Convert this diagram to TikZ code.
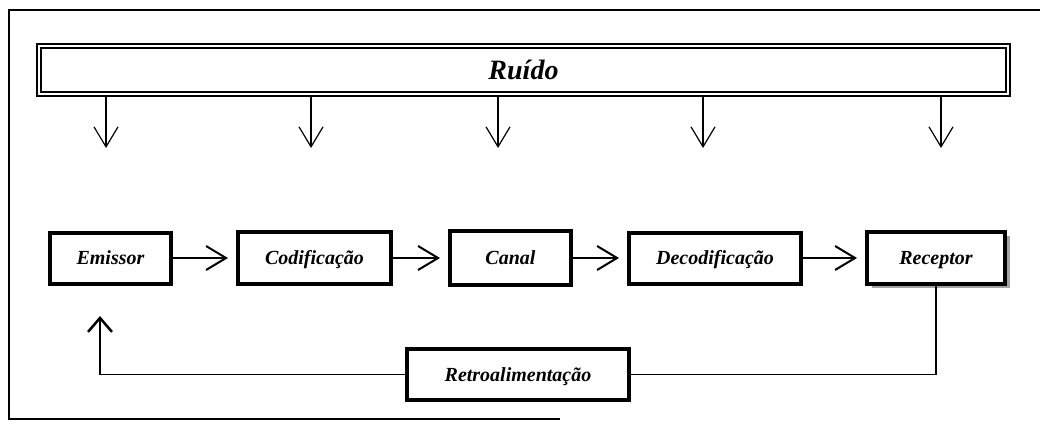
\documentclass[tikz,border=0pt]{standalone}
\usepackage{fontspec}
\setmainfont{Liberation Serif}
\usetikzlibrary{arrows.meta,shadows}
\begin{document}
\begin{tikzpicture}[x=1pt,y=-1pt,>={Straight Barb[length=20pt,width=24pt]}]
        \tikzstyle{bloco}=[draw,line width=4pt,fill=white,inner sep=0pt,text height=15pt,text depth=2pt,font=\fontsize{20}{23}\selectfont\bfseries\itshape]
        \tikzstyle{ruido}=[draw,double,double distance=2.5pt,line width=1.5pt,inner sep=0pt,font=\fontsize{28}{32}\selectfont\bfseries\itshape]
        \tikzstyle{seta}=[->,line width=2pt,shorten >=8pt]
        \tikzstyle{setafina}=[->,line width=1.2pt]
        \tikzstyle{linha}=[draw,line width=1.3pt]
        \useasboundingbox (0,0) rectangle (1044,423);
        % moldura
        \draw[line width=2pt] (1040,10) -- (9,10) -- (9,419) -- (560,419);
        % ruido
        \node [ruido,minimum width=969pt,minimum height=48pt] (ruido) at (523.5,70) {Ruído};
        \foreach \x [count=\i] in {106,311,498,703,941} {
          \coordinate (r\i) at (\x,148);
          \draw[setafina] (ruido.south -| r\i) -- (r\i);
        }
        % blocos
        \node [bloco,minimum width=121pt,minimum height=51pt] (emissor) at (110.5,258) {Emissor};
        \node [bloco,minimum width=153pt,minimum height=52pt] (codif) at (314.5,258) {Codificação};
        \node [bloco,minimum width=121pt,minimum height=54pt] (canal) at (510.5,258) {Canal};
        \node [bloco,minimum width=172pt,minimum height=51pt] (decod) at (715,258) {Decodificação};
        \node [bloco,minimum width=138pt,minimum height=52pt,drop shadow={shadow xshift=5pt,shadow yshift=-4pt,fill=black!45,opacity=0.8}] (recep) at (936,258) {Receptor};
        \node [bloco,minimum width=222pt,minimum height=51pt] (retro) at (518,374.5) {Retroalimentação};
        \coordinate (fb) at (100,316);
        \draw[seta] (emissor.east) -- (codif.west);
        \draw[seta] (codif.east) -- (canal.west);
        \draw[seta] (canal.east) -- (decod.west);
        \draw[seta] (decod.east) -- (recep.west);
        \path[linha] (recep.south) |- (retro.east);
        \path[linha,-{Straight Barb[length=14pt,width=24pt,line width=2.5pt]}] (retro.west) -| (fb);
      \end{tikzpicture}
\end{document}
